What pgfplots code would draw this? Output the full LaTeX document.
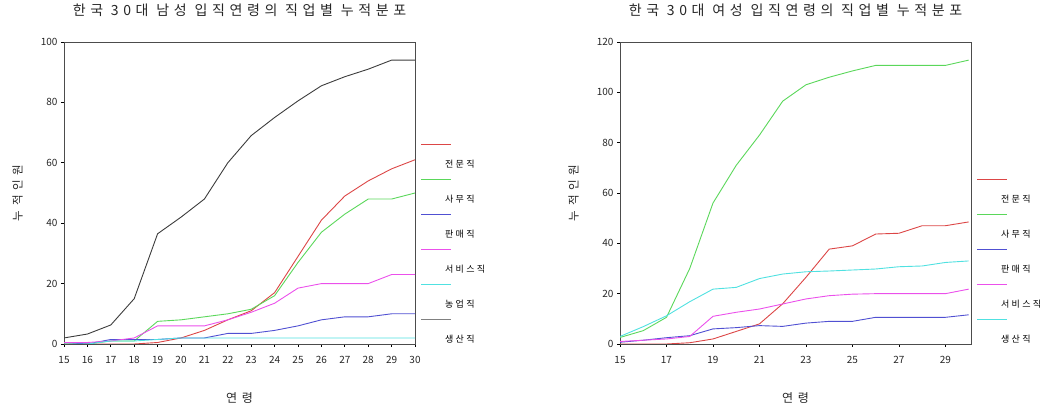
\documentclass[border=0pt]{standalone}
\usepackage{fontspec}
\setmainfont{Noto Sans CJK KR}
\usepackage{pgfplots}
\pgfplotsset{compat=1.18}
\definecolor{cred}{RGB}{220,70,70}
\definecolor{cgreen}{RGB}{90,215,90}
\definecolor{cblue}{RGB}{80,80,210}
\definecolor{cmag}{RGB}{235,80,235}
\definecolor{ccyan}{RGB}{80,225,225}
\definecolor{cdark}{RGB}{60,60,60}
\pgfplotsset{
  limg/.style={legend image code/.code={\draw[draw=#1, line width=1pt, overlay] (0pt,21pt) -- (30pt,21pt); \path[draw=none, fill=none] (0pt,0pt) -- (24pt,0pt);}},
  cumstyle/.style={
    scale only axis, width=351pt, height=302pt,
    xmin=15, ymin=0,
    axis line style={black!70, line width=0.7pt},
    tick align=outside, xtick pos=bottom, ytick pos=left,
    major tick length=3pt,
    tick style={black, line width=0.8pt},
    /pgf/number format/assume math mode=true,
    ticklabel style={font=\fontsize{10}{11}\selectfont, text=black!85},
    xticklabel style={yshift=-6pt},
    title style={at={(axis description cs:0.5,1.086)}, anchor=center,
      font=\fontsize{14}{15}\selectfont\addfontfeature{LetterSpace=33}, text=black!85},
    xlabel style={at={(axis description cs:0.5,-0.179)}, anchor=center,
      font=\fontsize{12}{14}\selectfont\addfontfeature{LetterSpace=40}, text=black!85},
    ylabel style={at={(axis description cs:-0.1325,0.5)}, anchor=center,
      font=\fontsize{11.5}{13}\selectfont\addfontfeature{LetterSpace=40}, text=black!85},
    legend style={draw=none, fill=none, at={(1,0)}, anchor=south west,
      xshift=6pt, yshift=-1pt, inner sep=0pt, row sep=26pt,
      nodes={inner sep=0pt, text height=7pt, text depth=2pt},
      font=\fontsize{9}{10}\selectfont\addfontfeature{LetterSpace=25}},
    legend cell align=left,
    every axis plot/.append style={line width=0.9pt, no markers},
  }
}
\begin{document}
\begin{tikzpicture}
\useasboundingbox (0,0) rectangle (1052pt,412pt);
\begin{axis}[cumstyle, at={(64pt,68pt)}, anchor=south west,
  xmax=30, ymax=100, xtick={15,16,...,30}, ytick={0,20,...,100},
  title={한국 30대 남성 입직연령의 직업별 누적분포},
  xlabel={연령}, ylabel={누적인원}]
\addplot[cred, limg=cred] coordinates {(15,0)(16,0)(17,0)(18,0)(19,0.5)(20,2)(21,4.5)(22,8)(23,11)(24,17)(25,29)(26,41)(27,49)(28,54)(29,58)(30,61)};
\addlegendentry{전문직}
\addplot[cgreen, limg=cgreen] coordinates {(15,0)(16,0)(17,1)(18,1)(19,7.5)(20,8)(21,9)(22,10)(23,11.5)(24,16)(25,27)(26,37)(27,43)(28,48)(29,48)(30,50)};
\addlegendentry{사무직}
\addplot[cblue, limg=cblue] coordinates {(15,0.5)(16,0)(17,1.5)(18,1.5)(19,1.5)(20,2)(21,2)(22,3.5)(23,3.5)(24,4.5)(25,6)(26,8)(27,9)(28,9)(29,10)(30,10)};
\addlegendentry{판매직}
\addplot[cmag, limg=cmag] coordinates {(15,0.5)(16,0.5)(17,1)(18,2)(19,6)(20,6)(21,6)(22,8)(23,10.5)(24,13.5)(25,18.5)(26,20)(27,20)(28,20)(29,23)(30,23)};
\addlegendentry{서비스직}
\addplot[ccyan, limg=ccyan] coordinates {(15,0)(16,0)(17,1)(18,1)(19,1.5)(20,2)(21,2)(22,2)(23,2)(24,2)(25,2)(26,2)(27,2)(28,2)(29,2)(30,2)};
\addlegendentry{농업직}
\addplot[cdark, limg=gray] coordinates {(15,2)(16,3.3)(17,6.3)(18,15)(19,36.5)(20,42)(21,48)(22,60)(23,69)(24,75)(25,80.5)(26,85.5)(27,88.5)(28,91)(29,94)(30,94)};
\addlegendentry{생산직}
\end{axis}
\begin{axis}[cumstyle, at={(620pt,68pt)}, anchor=south west,
  xmax=30.1, ymax=120, xtick={15,17,...,29}, ytick={0,20,...,120},
  title={한국 30대 여성 입직연령의 직업별 누적분포},
  xlabel={연령}, ylabel={누적인원}]
\addplot[cred, limg=cred] coordinates {(15,0)(16,0)(17,0)(18,0.5)(19,2)(20,5)(21,8)(22,16)(23,26.5)(24,37.7)(25,39)(26,43.7)(27,44)(28,47)(29,47)(30,48.5)};
\addlegendentry{전문직}
\addplot[cgreen, limg=cgreen] coordinates {(15,2.6)(16,5.3)(17,10.6)(18,30)(19,56)(20,71)(21,83)(22,96.5)(23,103)(24,106)(25,108.5)(26,110.7)(27,110.7)(28,110.7)(29,110.7)(30,112.8)};
\addlegendentry{사무직}
\addplot[cblue, limg=cblue] coordinates {(15,0.7)(16,1.5)(17,2.5)(18,3.3)(19,6)(20,6.5)(21,7.3)(22,7)(23,8.3)(24,9)(25,9)(26,10.6)(27,10.6)(28,10.6)(29,10.6)(30,11.6)};
\addlegendentry{판매직}
\addplot[cmag, limg=cmag] coordinates {(15,1)(16,1.5)(17,2)(18,3)(19,11)(20,12.6)(21,13.9)(22,15.9)(23,17.9)(24,19.2)(25,19.8)(26,20)(27,20)(28,20)(29,20)(30,21.8)};
\addlegendentry{서비스직}
\addplot[ccyan, limg=ccyan] coordinates {(15,3)(16,6.9)(17,11.2)(18,16.8)(19,21.8)(20,22.5)(21,26)(22,27.8)(23,28.7)(24,29)(25,29.4)(26,29.8)(27,30.7)(28,31)(29,32.4)(30,33)};
\addlegendentry{생산직}
\end{axis}
\end{tikzpicture}
\end{document}
